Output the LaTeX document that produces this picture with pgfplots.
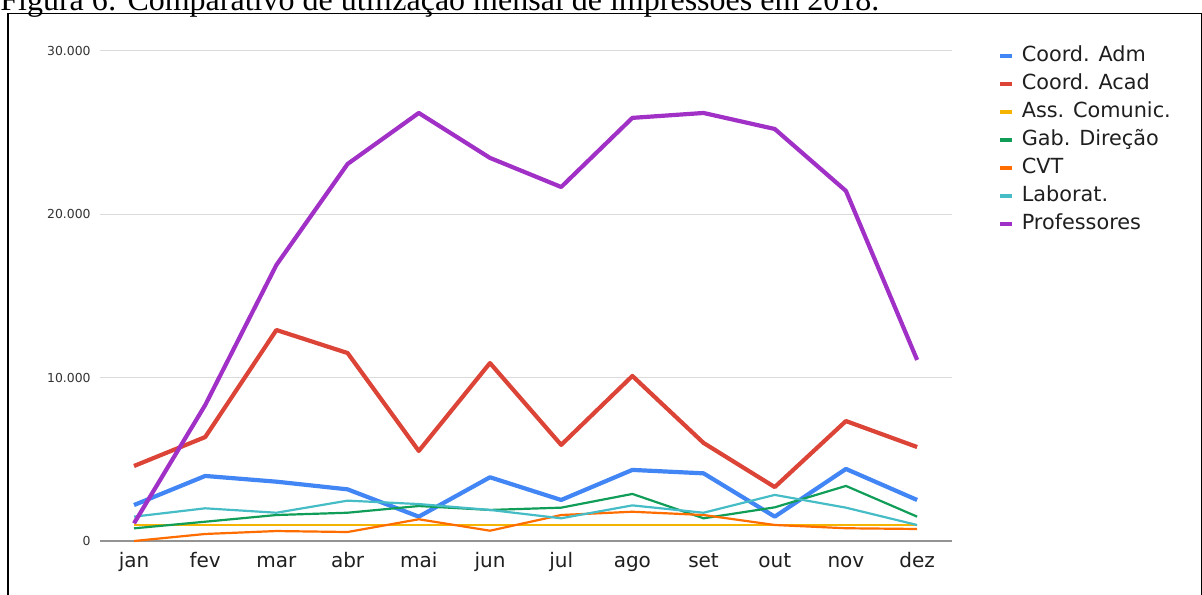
\documentclass[border=0pt]{standalone}
\usepackage{pgfplots}
\pgfplotsset{compat=1.18}
\usepackage{fontspec}
\setmainfont{DejaVu Sans}
\newfontfamily\titlefont{Liberation Serif}
\definecolor{cAdm}{HTML}{4285F4}
\definecolor{cAcad}{HTML}{DB4437}
\definecolor{cAss}{HTML}{F4B400}
\definecolor{cGab}{HTML}{0F9D58}
\definecolor{cCVT}{HTML}{FF6D01}
\definecolor{cLab}{HTML}{46BDC6}
\definecolor{cProf}{HTML}{A030C6}
\begin{document}
\begin{tikzpicture}
\useasboundingbox (0,0) rectangle (601pt,297pt);
\clip (0,0) rectangle (601pt,297pt);
\node[anchor=base west, inner sep=0pt, font=\titlefont\fontsize{16pt}{18pt}\selectfont] at (0pt,291.75pt) {Figura 6: Comparativo de utilização mensal de impressões em 2018.};
\draw[line width=0.7pt] (4pt,-5pt) -- (4pt,290.25pt) -- (600.6pt,290.25pt) -- (600.6pt,-5pt);
\begin{axis}[
  at={(50pt,26.5pt)}, anchor=south west,
  scale only axis, width=426pt, height=245.15pt,
  xmin=-0.478, xmax=11.49, ymin=0, ymax=30000,
  axis x line*=bottom, axis y line*=left, separate axis lines,
  y axis line style={draw=none},
  x axis line style={draw=gray!85, line width=0.8pt, -},
  xtick={0,...,11},
  xticklabels={jan,fev,mar,abr,mai,jun,jul,ago,set,out,nov,dez},
  ytick={0,10000,20000,30000},
  yticklabels={0,10.000,20.000,30.000},
  scaled y ticks=false,
  major tick length=0pt,
  ymajorgrids, grid style={draw=black!14, line width=0.5pt},
  xticklabel style={font=\fontsize{10pt}{12pt}\selectfont, text=black!88, inner sep=0pt, text height=7.6pt, text depth=2.4pt, anchor=north, yshift=-5.5pt},
  yticklabel style={font=\fontsize{6.2pt}{7pt}\selectfont, text=black!80, inner sep=0pt, anchor=east, xshift=-4.5pt},
  legend style={draw=none, fill=none, at={(1.0469,1.0184)}, anchor=north west,
    font=\fontsize{10.4pt}{12pt}\selectfont, text=black!88, row sep=4pt,
    nodes={inner sep=0pt, text height=7.5pt, text depth=2.5pt}},
  legend cell align=left,
  legend image code/.code={\draw[#1, line width=1.7pt] (0pt,0pt) -- (6pt,0pt);},
  every axis plot/.append style={line join=round, no markers},
  clip=false,
]
\addplot[cAdm, line width=2.1pt] coordinates {(0,2200)(1,3980)(2,3630)(3,3160)(4,1490)(5,3900)(6,2510)(7,4350)(8,4140)(9,1490)(10,4410)(11,2510)};
\addlegendentry{\hspace{4pt}Coord. Adm}
\addplot[cAcad, line width=2.1pt] coordinates {(0,4590)(1,6360)(2,12910)(3,11500)(4,5510)(5,10890)(6,5880)(7,10100)(8,6000)(9,3300)(10,7340)(11,5750)};
\addlegendentry{\hspace{4pt}Coord. Acad}
\addplot[cAss, line width=1.1pt] coordinates {(0,1000)(1,1000)(2,1000)(3,1000)(4,1000)(5,1000)(6,1000)(7,1000)(8,1000)(9,1000)(10,1000)(11,1000)};
\addlegendentry{\hspace{4pt}Ass. Comunic.}
\addplot[cGab, line width=1.1pt] coordinates {(0,775)(1,1180)(2,1590)(3,1730)(4,2140)(5,1900)(6,2040)(7,2880)(8,1390)(9,2060)(10,3370)(11,1490)};
\addlegendentry{\hspace{4pt}Gab. Direção}
\addplot[cCVT, line width=1.1pt] coordinates {(0,0)(1,430)(2,610)(3,550)(4,1330)(5,630)(6,1590)(7,1790)(8,1590)(9,980)(10,780)(11,735)};
\addlegendentry{\hspace{4pt}CVT}
\addplot[cLab, line width=1.1pt] coordinates {(0,1490)(1,2000)(2,1730)(3,2470)(4,2260)(5,1900)(6,1390)(7,2180)(8,1730)(9,2820)(10,2040)(11,980)};
\addlegendentry{\hspace{4pt}Laborat.}
\addplot[cProf, line width=2.1pt] coordinates {(0,1080)(1,8320)(2,16890)(3,23070)(4,26190)(5,23440)(6,21660)(7,25890)(8,26190)(9,25210)(10,21420)(11,11080)};
\addlegendentry{\hspace{4pt}Professores}
\end{axis}
\end{tikzpicture}
\end{document}
